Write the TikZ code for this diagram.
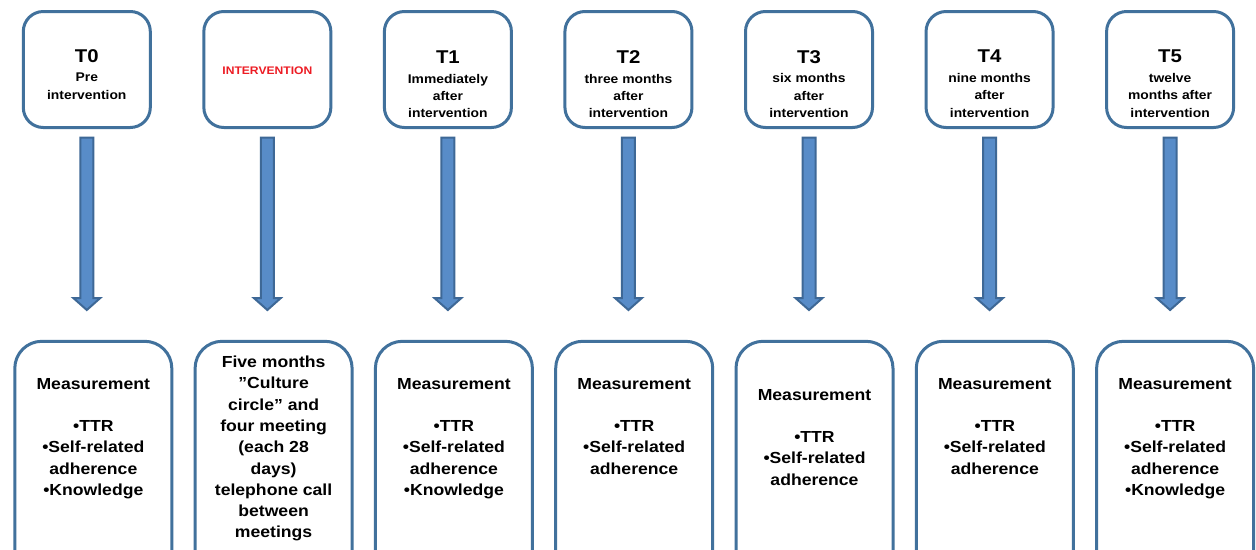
\documentclass[tikz,border=0pt]{standalone}
\usepackage{fontspec}
\setmainfont{Liberation Sans}[FakeStretch=1.1]
\usetikzlibrary{calc}
\definecolor{boxline}{RGB}{65,113,156}
\definecolor{arrfill}{RGB}{88,140,200}
\definecolor{arrline}{RGB}{62,104,150}
\definecolor{redtxt}{RGB}{237,28,36}
\tikzset{
 topbox/.style={draw=boxline, line width=3pt, rounded corners=20pt, minimum width=127pt, minimum height=116pt, inner sep=0pt},
 botbox/.style={draw=boxline, line width=3pt, rounded corners=27pt, minimum width=157pt, minimum height=260pt, anchor=north, inner sep=0pt},
 toptext/.style={anchor=north, inner sep=0pt, align=center, font=\fontsize{12.6}{17.2}\selectfont\bfseries},
 bottext/.style={anchor=north, inner sep=0pt, align=center, font=\fontsize{16}{21.3}\selectfont\bfseries},
 blockarrow/.style={fill=arrfill, draw=arrline, line width=2pt, line join=miter},
}
\newcommand{\tlabel}[1]{{\fontsize{18.5}{20}\selectfont #1}\\[2.6pt]}
\begin{document}
\begin{tikzpicture}[x=1pt,y=1pt]
\clip (0,0) rectangle (1256,-549);
\fill[white] (0,0) rectangle (1256,-549);
% top boxes
\node[topbox] (t0) at (86.8,-69.5) {};
\node[topbox] (t1) at (267.35,-69.5) {};
\node[topbox] (t2) at (447.9,-69.5) {};
\node[topbox] (t3) at (628.45,-69.5) {};
\node[topbox] (t4) at (809.0,-69.5) {};
\node[topbox] (t5) at (989.55,-69.5) {};
\node[topbox] (t6) at (1170.1,-69.5) {};
% bottom boxes
\node[botbox] (m0) at (93.3,-339.8) {};
\node[botbox] (m1) at (273.6,-339.8) {};
\node[botbox] (m2) at (453.9,-339.8) {};
\node[botbox] (m3) at (634.2,-339.8) {};
\node[botbox] (m4) at (814.5,-339.8) {};
\node[botbox] (m5) at (994.8,-339.8) {};
\node[botbox] (m6) at (1175.1,-339.8) {};
% top texts
\node[toptext] (tt0) at (86.8,-49) {\tlabel{T0}Pre\\intervention};
\node[inner sep=0pt, text=redtxt, font=\fontsize{11}{13}\selectfont\bfseries] (tt1) at (267.35,-70.3) {INTERVENTION};
\node[toptext] (tt2) at (447.9,-50.5) {\tlabel{T1}Immediately\\after\\intervention};
\node[toptext] (tt3) at (628.45,-50.5) {\tlabel{T2}three months\\after\\intervention};
\node[toptext] (tt4) at (809.0,-50) {\tlabel{T3}six months\\after\\intervention};
\node[toptext] (tt5) at (989.55,-50) {\tlabel{T4}nine months\\after\\intervention};
\node[toptext] (tt6) at (1170.1,-50) {\tlabel{T5}twelve\\months after\\intervention};
% bottom texts
\node[bottext] (mt0) at (93.3,-378) {Measurement\\[21pt]•TTR\\•Self-related\\adherence\\•Knowledge};
\node[bottext] (mt1) at (273.6,-355.7) {Five months\\ ”Culture\\circle” and\\four meeting\\(each 28\\days)\\telephone call\\between\\meetings};
\node[bottext] (mt2) at (453.9,-378) {Measurement\\[21pt]•TTR\\•Self-related\\adherence\\•Knowledge};
\node[bottext] (mt3) at (634.2,-378) {Measurement\\[21pt]•TTR\\•Self-related\\adherence};
\node[bottext] (mt4) at (814.5,-389) {Measurement\\[21pt]•TTR\\•Self-related\\adherence};
\node[bottext] (mt5) at (994.8,-378) {Measurement\\[21pt]•TTR\\•Self-related\\adherence};
\node[bottext] (mt6) at (1175.1,-378) {Measurement\\[21pt]•TTR\\•Self-related\\adherence\\•Knowledge};
% block arrows
\foreach \i in {0,...,6}{
  \path[blockarrow] let \p1=(t\i.south), \p2=(m\i.north) in
    (\x1-6.5pt,\y1-8.5pt) -- (\x1+6.5pt,\y1-8.5pt) -- (\x1+6.5pt,\y2+41.8pt)
    -- (\x1+13.5pt,\y2+41.8pt) -- (\x1,\y2+29.8pt) -- (\x1-13.5pt,\y2+41.8pt)
    -- (\x1-6.5pt,\y2+41.8pt) -- cycle;
}
\end{tikzpicture}
\end{document}
